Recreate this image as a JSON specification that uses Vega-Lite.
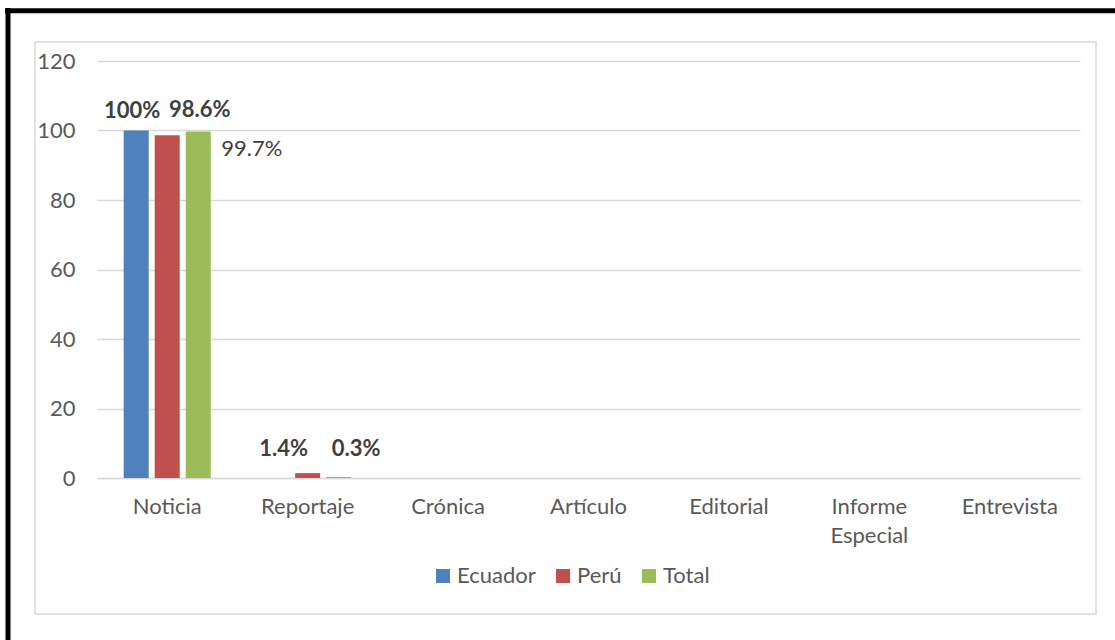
{
  "$schema": "https://vega.github.io/schema/vega-lite/v6.json",
  "width": 1061,
  "height": 572,
  "autosize": {"type": "none"},
  "padding": {"left": 35, "top": 42, "right": 19, "bottom": 26},
  "background": "white",
  "config": {
    "view": {"stroke": "#D9D9D9", "strokeWidth": 1.5},
    "font": "Lato",
    "text": {"font": "Lato"}
  },
  "datasets": {
    "main": [
      {"cat": "Noticia", "country": "Ecuador", "value": 100},
      {"cat": "Noticia", "country": "Perú", "value": 98.6},
      {"cat": "Noticia", "country": "Total", "value": 99.7},
      {"cat": "Reportaje", "country": "Ecuador", "value": 0},
      {"cat": "Reportaje", "country": "Perú", "value": 1.4},
      {"cat": "Reportaje", "country": "Total", "value": 0.3},
      {"cat": "Crónica", "country": "Ecuador", "value": 0},
      {"cat": "Crónica", "country": "Perú", "value": 0},
      {"cat": "Crónica", "country": "Total", "value": 0},
      {"cat": "Artículo", "country": "Ecuador", "value": 0},
      {"cat": "Artículo", "country": "Perú", "value": 0},
      {"cat": "Artículo", "country": "Total", "value": 0},
      {"cat": "Editorial", "country": "Ecuador", "value": 0},
      {"cat": "Editorial", "country": "Perú", "value": 0},
      {"cat": "Editorial", "country": "Total", "value": 0},
      {"cat": "Informe Especial", "country": "Ecuador", "value": 0},
      {"cat": "Informe Especial", "country": "Perú", "value": 0},
      {"cat": "Informe Especial", "country": "Total", "value": 0},
      {"cat": "Entrevista", "country": "Ecuador", "value": 0},
      {"cat": "Entrevista", "country": "Perú", "value": 0},
      {"cat": "Entrevista", "country": "Total", "value": 0}
    ],
    "frame": [{"k": 0}]
  },
  "layer": [
    {
      "data": {"name": "main"},
      "encoding": {
        "x": {
          "field": "cat",
          "type": "nominal",
          "sort": ["Noticia", "Reportaje", "Crónica", "Artículo", "Editorial", "Informe Especial", "Entrevista"],
          "scale": {"range": [62, 1045], "paddingInner": 0.38, "paddingOuter": 0.19},
          "axis": {
            "title": null,
            "offset": -136,
            "domain": true,
            "domainColor": "#D9D9D9",
            "domainWidth": 1.5,
            "ticks": false,
            "grid": false,
            "labelAngle": 0,
            "labelPadding": 18,
            "labelFont": "Lato",
            "labelFontSize": 22,
            "labelColor": "#595959",
            "labelExpr": "split(datum.label, ' ')",
            "labelLineHeight": 29
          }
        },
        "xOffset": {
          "field": "country",
          "type": "nominal",
          "sort": ["Ecuador", "Perú", "Total"],
          "scale": {"paddingInner": 0.1935, "paddingOuter": 0}
        },
        "y": {
          "field": "value",
          "type": "quantitative",
          "scale": {"domain": [0, 120], "range": [436, 19], "nice": false, "zero": true},
          "axis": {
            "title": null,
            "offset": -62,
            "values": [0, 20, 40, 60, 80, 100, 120],
            "domain": false,
            "ticks": false,
            "grid": true,
            "gridColor": "#D9D9D9",
            "gridWidth": 1.5,
            "labelPadding": 22,
            "labelFont": "Lato",
            "labelFontSize": 22,
            "labelColor": "#595959"
          }
        }
      },
      "layer": [
        {
          "mark": {"type": "bar"},
          "encoding": {
            "color": {
              "field": "country",
              "type": "nominal",
              "scale": {"domain": ["Ecuador", "Perú", "Total"], "range": ["#4F81BD", "#C0504D", "#9BBB59"]},
              "legend": {
                "orient": "none",
                "legendX": 397,
                "legendY": 523,
                "direction": "horizontal",
                "title": null,
                "padding": 0,
                "symbolType": "square",
                "symbolSize": 196,
                "symbolStrokeWidth": 0,
                "symbolOpacity": 1,
                "labelFont": "Lato",
                "labelFontSize": 22,
                "labelColor": "#595959",
                "labelOffset": 3,
                "columnPadding": 16
              }
            }
          }
        },
        {
          "transform": [
            {"filter": "datum.cat == 'Noticia' && datum.country == 'Ecuador'"},
            {"calculate": "format(datum.value, '.4~') + '%'", "as": "lbl"}
          ],
          "mark": {"type": "text", "dx": -4, "dy": -13, "baseline": "alphabetic", "fontWeight": "bold", "fontSize": 22, "color": "#404040"},
          "encoding": {"text": {"field": "lbl", "type": "nominal"}}
        },
        {
          "transform": [
            {"filter": "datum.cat == 'Noticia' && datum.country == 'Perú'"},
            {"calculate": "format(datum.value, '.4~') + '%'", "as": "lbl"}
          ],
          "mark": {"type": "text", "dx": 32.5, "dy": -18.5, "baseline": "alphabetic", "fontWeight": "bold", "fontSize": 22, "color": "#404040"},
          "encoding": {"text": {"field": "lbl", "type": "nominal"}}
        },
        {
          "transform": [
            {"filter": "datum.cat == 'Noticia' && datum.country == 'Total'"},
            {"calculate": "format(datum.value, '.4~') + '%'", "as": "lbl"}
          ],
          "mark": {"type": "text", "dx": 53.5, "dy": 24, "baseline": "alphabetic", "fontWeight": "normal", "fontSize": 22, "color": "#404040"},
          "encoding": {"text": {"field": "lbl", "type": "nominal"}}
        },
        {
          "transform": [
            {"filter": "datum.cat == 'Reportaje' && datum.country == 'Perú'"},
            {"calculate": "format(datum.value, '.4~') + '%'", "as": "lbl"}
          ],
          "mark": {"type": "text", "dx": -24, "dy": -17, "baseline": "alphabetic", "fontWeight": "bold", "fontSize": 22, "color": "#404040"},
          "encoding": {"text": {"field": "lbl", "type": "nominal"}}
        },
        {
          "transform": [
            {"filter": "datum.cat == 'Reportaje' && datum.country == 'Total'"},
            {"calculate": "format(datum.value, '.4~') + '%'", "as": "lbl"}
          ],
          "mark": {"type": "text", "dx": 17.5, "dy": -21, "baseline": "alphabetic", "fontWeight": "bold", "fontSize": 22, "color": "#404040"},
          "encoding": {"text": {"field": "lbl", "type": "nominal"}}
        }
      ]
    },
    {
      "data": {"name": "frame"},
      "mark": {"type": "point", "opacity": 0},
      "encoding": {
        "x": {
          "datum": 0,
          "type": "quantitative",
          "scale": {"domain": [0, 1], "range": [-30.5, 1080]},
          "axis": {"orient": "top", "offset": 31.7, "domainColor": "black", "domainWidth": 5, "labels": false, "ticks": false, "grid": false, "title": null}
        },
        "y": {
          "datum": 0,
          "type": "quantitative",
          "scale": {"domain": [0, 1], "range": [598, -34.5]},
          "axis": {"orient": "left", "offset": 27.5, "domainColor": "black", "domainWidth": 5, "labels": false, "ticks": false, "grid": false, "title": null}
        }
      }
    }
  ],
  "resolve": {
    "scale": {"x": "independent", "y": "independent"},
    "axis": {"x": "independent", "y": "independent"}
  }
}
